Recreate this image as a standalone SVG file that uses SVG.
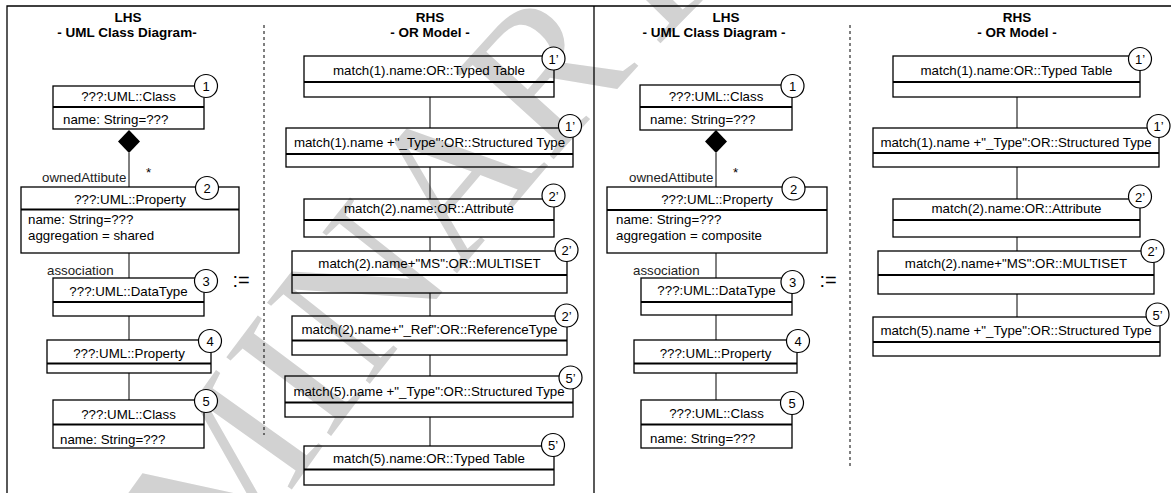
<svg xmlns="http://www.w3.org/2000/svg" width="1171" height="493" viewBox="0 0 1171 493">
<style>
text{font-family:"Liberation Sans",Arial,sans-serif;font-size:13.3px;fill:#000}
.t{text-anchor:middle}
.h{font-weight:bold;text-anchor:middle;font-size:13.5px}
.r{fill:none;stroke:#000;stroke-width:1.3}
.d{stroke:#000;stroke-width:1.8}
.c{fill:#fff;stroke:#000;stroke-width:1.2}
.n{text-anchor:middle;font-size:13px}
.l{stroke:#000;stroke-width:1}
.dash{stroke:#000;stroke-width:1;stroke-dasharray:3 3}
.role{fill:#222}
.wm{font-family:"Liberation Serif","Times New Roman",serif;font-size:200px;fill:#d2d2d2}
.as{font-size:20px;text-anchor:middle}
</style>
<defs>
<path id="wmpath" d="M -50 1000 L 115 750 Q 435 250 775 -70"/>
</defs>
<rect width="1171" height="493" fill="#fff"/>
<text class="wm"><textPath href="#wmpath" startOffset="-60">PRELIMINARY</textPath></text>

<g id="frame">
<path d="M7 493 V6 H1171" fill="none" stroke="#000" stroke-width="1.3"/>
<line x1="594" y1="6" x2="594" y2="493" stroke="#000" stroke-width="1.3"/>
<line class="dash" x1="264" y1="25" x2="264" y2="435"/>
<line class="dash" x1="850" y1="25" x2="850" y2="467"/>
</g>

<g id="titles">
<text class="h" x="128" y="22">LHS</text>
<text class="h" x="127" y="37">- UML Class Diagram-</text>
<text class="h" x="430" y="22">RHS</text>
<text class="h" x="430" y="37">- OR Model -</text>
<text class="h" x="726" y="22">LHS</text>
<text class="h" x="714" y="37">- UML Class Diagram -</text>
<text class="h" x="1017" y="22">RHS</text>
<text class="h" x="1017" y="37">- OR Model -</text>
<text class="as" x="241" y="287">:=</text>
<text class="as" x="828" y="287">:=</text>
</g>

<g id="connectors">
<polygon points="129,130 140,141.5 129,153 118,141.5" fill="#000"/>
<line class="l" x1="129" y1="153" x2="129" y2="187"/>
<line class="l" x1="129" y1="253" x2="129" y2="278"/>
<line class="l" x1="129" y1="316" x2="129" y2="340"/>
<line class="l" x1="129" y1="373" x2="129" y2="400"/>
<text class="role" x="42" y="182">ownedAttibute</text>
<text x="146" y="177">*</text>
<text class="role" x="47" y="275">association</text>

<line class="l" x1="430" y1="97" x2="430" y2="128"/>
<line class="l" x1="430" y1="167" x2="430" y2="199"/>
<line class="l" x1="430" y1="237" x2="430" y2="251"/>
<line class="l" x1="430" y1="293" x2="430" y2="316"/>
<line class="l" x1="430" y1="355" x2="430" y2="376"/>
<line class="l" x1="430" y1="417" x2="430" y2="446"/>

<polygon points="716,130 727,141.5 716,153 705,141.5" fill="#000"/>
<line class="l" x1="716" y1="153" x2="716" y2="187"/>
<line class="l" x1="716" y1="253" x2="716" y2="278"/>
<line class="l" x1="716" y1="315" x2="716" y2="340"/>
<line class="l" x1="716" y1="373" x2="716" y2="400"/>
<text class="role" x="629" y="182">ownedAttibute</text>
<text x="733" y="177">*</text>
<text class="role" x="633" y="275">association</text>

<line class="l" x1="1017" y1="97" x2="1017" y2="128"/>
<line class="l" x1="1017" y1="167" x2="1017" y2="199"/>
<line class="l" x1="1017" y1="237" x2="1017" y2="251"/>
<line class="l" x1="1017" y1="294" x2="1017" y2="317"/>
</g>

<!-- Panel 1 LHS -->
<g id="p1n1">
<rect class="r" x="53" y="86" width="151" height="43"/>
<line class="d" x1="53" y1="107" x2="204" y2="107"/>
<text class="t" x="128.5" y="101">???:UML::Class</text>
<text x="63" y="124">name: String=???</text>
<circle class="c" cx="206" cy="86" r="11.5"/><text class="n" x="206" y="91">1</text>
</g>
<g id="p1n2">
<rect class="r" x="21" y="187" width="218" height="66"/>
<line class="d" x1="21" y1="209.5" x2="239" y2="209.5"/>
<text class="t" x="130" y="204">???:UML::Property</text>
<text x="28" y="224">name: String=???</text>
<text x="28" y="240">aggregation = shared</text>
<circle class="c" cx="207" cy="188" r="11.5"/><text class="n" x="207" y="193">2</text>
</g>
<g id="p1n3">
<rect class="r" x="53" y="278" width="151" height="38"/>
<line class="d" x1="53" y1="302" x2="204" y2="302"/>
<text class="t" x="128.5" y="296">???:UML::DataType</text>
<circle class="c" cx="206" cy="281" r="11.5"/><text class="n" x="206" y="286">3</text>
</g>
<g id="p1n4">
<rect class="r" x="47" y="340" width="164" height="33"/>
<line class="d" x1="47" y1="363.5" x2="211" y2="363.5"/>
<text class="t" x="129" y="358">???:UML::Property</text>
<circle class="c" cx="210" cy="341" r="11.5"/><text class="n" x="210" y="346">4</text>
</g>
<g id="p1n5">
<rect class="r" x="53" y="400" width="151" height="48"/>
<line class="d" x1="53" y1="424.5" x2="204" y2="424.5"/>
<text class="t" x="128.5" y="419">???:UML::Class</text>
<text x="60" y="444">name: String=???</text>
<circle class="c" cx="206" cy="401" r="11.5"/><text class="n" x="206" y="406">5</text>
</g>

<!-- Panel 2 RHS -->
<g id="p2n1">
<rect class="r" x="304" y="56" width="250" height="41"/>
<line class="d" x1="304" y1="82" x2="554" y2="82"/>
<text class="t" x="429" y="75">match(1).name:OR::Typed Table</text>
<circle class="c" cx="553.5" cy="58.5" r="11.5"/><text class="n" x="553.5" y="63.5">1’</text>
</g>
<g id="p2n2">
<rect class="r" x="286" y="128" width="287" height="39"/>
<line class="d" x1="286" y1="154" x2="573" y2="154"/>
<text class="t" x="429.5" y="147">match(1).name +"_Type":OR::Structured Type</text>
<circle class="c" cx="570" cy="126" r="11.5"/><text class="n" x="570" y="131">1’</text>
</g>
<g id="p2n3">
<rect class="r" x="304" y="199" width="250" height="38"/>
<line class="d" x1="304" y1="220" x2="554" y2="220"/>
<text class="t" x="429" y="213">match(2).name:OR::Attribute</text>
<circle class="c" cx="553.5" cy="195.5" r="11.5"/><text class="n" x="553.5" y="200.5">2’</text>
</g>
<g id="p2n4">
<rect class="r" x="292" y="251" width="275" height="42"/>
<line class="d" x1="292" y1="275" x2="567" y2="275"/>
<text class="t" x="429.5" y="268">match(2).name+"MS":OR::MULTISET</text>
<circle class="c" cx="566.5" cy="250" r="11.5"/><text class="n" x="566.5" y="255">2’</text>
</g>
<g id="p2n5">
<rect class="r" x="292" y="316" width="275" height="39"/>
<line class="d" x1="292" y1="340.5" x2="567" y2="340.5"/>
<text class="t" x="429.5" y="334">match(2).name+"_Ref":OR::ReferenceType</text>
<circle class="c" cx="566.5" cy="315.5" r="11.5"/><text class="n" x="566.5" y="320.5">2’</text>
</g>
<g id="p2n6">
<rect class="r" x="285" y="376" width="288" height="41"/>
<line class="d" x1="285" y1="402.5" x2="573" y2="402.5"/>
<text class="t" x="429" y="396">match(5).name +"_Type":OR::Structured Type</text>
<circle class="c" cx="570.5" cy="377.5" r="11.5"/><text class="n" x="570.5" y="382.5">5’</text>
</g>
<g id="p2n7">
<rect class="r" x="304" y="446" width="250" height="39"/>
<line class="d" x1="304" y1="469.5" x2="554" y2="469.5"/>
<text class="t" x="429" y="463">match(5).name:OR::Typed Table</text>
<circle class="c" cx="553" cy="445" r="11.5"/><text class="n" x="553" y="450">5’</text>
</g>

<!-- Panel 3 LHS -->
<g id="p3n1">
<rect class="r" x="640" y="85" width="152" height="45"/>
<line class="d" x1="640" y1="107" x2="792" y2="107"/>
<text class="t" x="716" y="101">???:UML::Class</text>
<text x="650" y="124">name: String=???</text>
<circle class="c" cx="792.5" cy="86" r="11.5"/><text class="n" x="792.5" y="91">1</text>
</g>
<g id="p3n2">
<rect class="r" x="607" y="187" width="220" height="66"/>
<line class="d" x1="607" y1="210" x2="827" y2="210"/>
<text class="t" x="717" y="204">???:UML::Property</text>
<text x="616" y="224">name: String=???</text>
<text x="616" y="240">aggregation = composite</text>
<circle class="c" cx="793.5" cy="188.5" r="11.5"/><text class="n" x="793.5" y="193.5">2</text>
</g>
<g id="p3n3">
<rect class="r" x="641" y="278" width="151" height="37"/>
<line class="d" x1="641" y1="302" x2="792" y2="302"/>
<text class="t" x="716.5" y="295">???:UML::DataType</text>
<circle class="c" cx="792.5" cy="282" r="11.5"/><text class="n" x="792.5" y="287">3</text>
</g>
<g id="p3n4">
<rect class="r" x="634" y="340" width="163" height="33"/>
<line class="d" x1="634" y1="363.5" x2="797" y2="363.5"/>
<text class="t" x="715.5" y="358">???:UML::Property</text>
<circle class="c" cx="798" cy="341" r="11.5"/><text class="n" x="798" y="346">4</text>
</g>
<g id="p3n5">
<rect class="r" x="641" y="400" width="151" height="48"/>
<line class="d" x1="641" y1="424.5" x2="792" y2="424.5"/>
<text class="t" x="716.5" y="418">???:UML::Class</text>
<text x="650" y="443">name: String=???</text>
<circle class="c" cx="792" cy="403" r="11.5"/><text class="n" x="792" y="408">5</text>
</g>

<!-- Panel 4 RHS -->
<g id="p4n1">
<rect class="r" x="893" y="56" width="247" height="41"/>
<line class="d" x1="893" y1="82" x2="1140" y2="82"/>
<text class="t" x="1016.5" y="75">match(1).name:OR::Typed Table</text>
<circle class="c" cx="1140" cy="59" r="11.5"/><text class="n" x="1140" y="64">1’</text>
</g>
<g id="p4n2">
<rect class="r" x="873" y="128" width="286" height="39"/>
<line class="d" x1="873" y1="153" x2="1159" y2="153"/>
<text class="t" x="1016" y="147">match(1).name +"_Type":OR::Structured Type</text>
<circle class="c" cx="1158.5" cy="126" r="11.5"/><text class="n" x="1158.5" y="131">1’</text>
</g>
<g id="p4n3">
<rect class="r" x="893" y="199" width="247" height="38"/>
<line class="d" x1="893" y1="220" x2="1140" y2="220"/>
<text class="t" x="1016.5" y="213">match(2).name:OR::Attribute</text>
<circle class="c" cx="1140" cy="196.5" r="11.5"/><text class="n" x="1140" y="201.5">2’</text>
</g>
<g id="p4n4">
<rect class="r" x="878" y="251" width="276" height="43"/>
<line class="d" x1="878" y1="275" x2="1154" y2="275"/>
<text class="t" x="1016" y="268">match(2).name+"MS":OR::MULTISET</text>
<circle class="c" cx="1152.5" cy="251" r="11.5"/><text class="n" x="1152.5" y="256">2’</text>
</g>
<g id="p4n5">
<rect class="r" x="873" y="317" width="287" height="39"/>
<line class="d" x1="873" y1="342" x2="1160" y2="342"/>
<text class="t" x="1016" y="335">match(5).name +"_Type":OR::Structured Type</text>
<circle class="c" cx="1157.5" cy="314.5" r="11.5"/><text class="n" x="1157.5" y="319.5">5’</text>
</g>
</svg>
